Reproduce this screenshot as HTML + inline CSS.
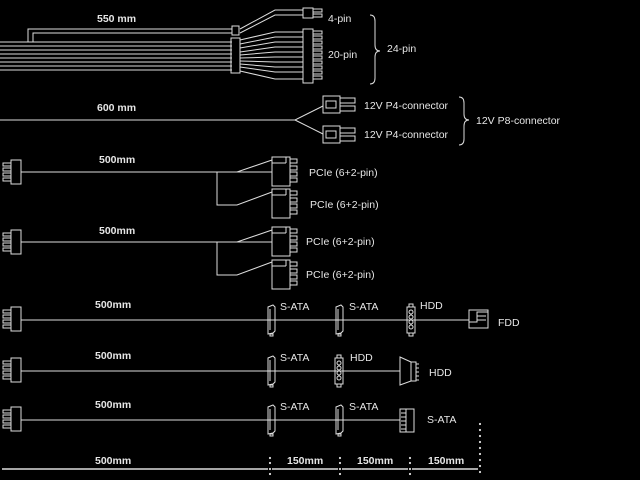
<!DOCTYPE html>
<html><head><meta charset="utf-8"><style>
html,body{margin:0;padding:0;background:#000;}
svg{display:block;}
text{font-family:"Liberation Sans",sans-serif;font-size:10.5px;fill:#e6e6e6;}
.b{font-weight:bold;}
</style></head><body>
<svg width="640" height="480" viewBox="0 0 640 480" xmlns="http://www.w3.org/2000/svg">
<defs>
<g id="lc" fill="none" stroke="#ddd" stroke-width="1">
  <rect x="11" y="0" width="10" height="24"/>
  <rect x="3" y="3" width="8" height="3"/><rect x="3" y="8" width="8" height="3"/>
  <rect x="3" y="13" width="8" height="3"/><rect x="3" y="18" width="8" height="3"/>
</g>
<g id="pcie" fill="none" stroke="#ddd" stroke-width="1">
  <rect x="0" y="0" width="18" height="29"/>
  <line x1="0" y1="6" x2="14" y2="6"/><line x1="14" y1="0" x2="14" y2="6"/>
  <rect x="18" y="2" width="7" height="4"/><rect x="18" y="9" width="7" height="4"/>
  <rect x="18" y="15" width="7" height="4"/><rect x="18" y="21" width="7" height="4"/>
</g>
<g id="sata" fill="none" stroke="#ddd" stroke-width="1">
  <path d="M1 2 L6 0 L8 2 L8 26 L6 28 L1 29 Z"/>
  <line x1="3" y1="4" x2="3" y2="25"/>
  <rect x="3" y="29" width="3" height="2"/>
</g>
<g id="molex" fill="none" stroke="#ddd" stroke-width="1">
  <rect x="0" y="3" width="8" height="26"/>
  <rect x="2" y="0" width="4" height="3"/><rect x="2" y="29" width="4" height="3"/>
  <circle cx="4" cy="8" r="2"/><circle cx="4" cy="13" r="2"/><circle cx="4" cy="18" r="2"/><circle cx="4" cy="23" r="2"/>
</g>
<g id="p4" fill="none" stroke="#ddd" stroke-width="1">
  <rect x="0" y="0" width="17" height="17"/>
  <rect x="3" y="5" width="10" height="7"/>
  <rect x="17" y="2" width="15" height="5"/><rect x="17" y="10" width="15" height="5"/>
</g>
</defs>
<g stroke="#ddd" stroke-width="1" fill="none">
  <!-- 24 pin -->
  <path d="M28 42 V29 H232 M33 42 V33 H232"/>
  <path d="M0 42H232M0 46H232M0 50H232M0 54H232M0 58H232M0 62H232M0 66H232M0 70H232"/>
  <rect x="232" y="26" width="7" height="9"/>
  <rect x="231" y="38" width="9" height="35"/>
  <path d="M240 29 L275 10 H303 M240 33 L275 15 H303"/>
  <path d="M240 40 L275 32 H303 M240 44 L275 37 H303 M240 48 L275 42 H303 M240 52 L275 47 H303 M240 55 L275 52 H303 M240 58 L275 57 H303 M240 61 L275 62 H303 M240 64 L275 67 H303 M240 67 L275 72 H303 M240 71 L275 79 H303"/>
  <rect x="303" y="8" width="10" height="10"/>
  <rect x="313" y="9" width="9" height="3"/><rect x="313" y="14" width="9" height="3"/>
  <rect x="303" y="29" width="10" height="54"/>
  <path d="M313 31h9v3h-9M313 36h9v3h-9M313 41h9v3h-9M313 46h9v3h-9M313 51h9v3h-9M313 56h9v3h-9M313 61h9v3h-9M313 66h9v3h-9M313 71h9v3h-9M313 76h9v3h-9"/>
  <path d="M370 15 q5 0 5 6 v24 q0 6 5 6 q-5 0 -5 6 v21 q0 6 -5 6"/>
  <!-- 600 -->
  <path d="M0 120 H295 L323 106 M295 120 L323 134"/>
  <use href="#p4" x="323" y="96"/>
  <use href="#p4" x="323" y="126"/>
  <path d="M459 97 q5 0 5 6 v11 q0 6 5 6 q-5 0 -5 6 v13 q0 6 -5 6"/>
  <!-- PCIe -->
  <path d="M21 172 H237 L272 160 M217 172 V205 H237 L272 192 M237 172 H272"/>
  <use href="#lc" x="0" y="160"/>
  <use href="#pcie" x="272" y="157"/><use href="#pcie" x="272" y="189"/>
  <path d="M21 242 H237 L272 230 M217 242 V275 H237 L272 262 M237 242 H272"/>
  <use href="#lc" x="0" y="230"/>
  <use href="#pcie" x="272" y="227"/><use href="#pcie" x="272" y="260"/>
  <!-- row1 -->
  <path d="M21 320 H469"/>
  <use href="#lc" x="0" y="307"/>
  <use href="#sata" x="267" y="305"/><use href="#sata" x="335" y="305"/>
  <use href="#molex" x="407" y="304"/>
  <rect x="469" y="310" width="19" height="18" fill="#000"/>
  <path d="M469 322 H477 V312 H488 M477 316 H486 M477 320 H486"/>
  <!-- row2 -->
  <path d="M21 371 H400"/>
  <use href="#lc" x="0" y="358"/>
  <use href="#sata" x="267" y="356"/>
  <use href="#molex" x="335" y="355"/>
  <path d="M400 357 L411 362 V381 L400 385 Z" fill="#000"/>
  <rect x="411" y="362" width="5" height="19"/>
  <path d="M416 364h3M416 368h3M416 372h3M416 376h3M416 380h3"/>
  <!-- row3 -->
  <path d="M21 420 H400"/>
  <use href="#lc" x="0" y="407"/>
  <use href="#sata" x="267" y="405"/><use href="#sata" x="335" y="405"/>
  <rect x="400" y="409" width="14" height="23" fill="#000"/>
  <rect x="406" y="409" width="8" height="23"/>
  <path d="M401 413h5M401 417h5M401 421h5M401 425h5M401 429h5"/>
  <!-- dimension -->
  <path d="M2 469 H268 M272 469 H338 M342 469 H408 M412 469 H478" stroke-width="1.6"/>
</g>
<g fill="#ddd">
  <circle cx="270" cy="458" r="1.1"/><circle cx="270" cy="463" r="1.1"/><circle cx="270" cy="469" r="1.1"/><circle cx="270" cy="474" r="1.1"/>
  <circle cx="340" cy="458" r="1.1"/><circle cx="340" cy="463" r="1.1"/><circle cx="340" cy="469" r="1.1"/><circle cx="340" cy="474" r="1.1"/>
  <circle cx="410" cy="458" r="1.1"/><circle cx="410" cy="463" r="1.1"/><circle cx="410" cy="469" r="1.1"/><circle cx="410" cy="474" r="1.1"/>
  <circle cx="480" cy="424" r="1.1"/><circle cx="480" cy="430" r="1.1"/><circle cx="480" cy="436" r="1.1"/><circle cx="480" cy="442" r="1.1"/><circle cx="480" cy="448" r="1.1"/><circle cx="480" cy="454" r="1.1"/><circle cx="480" cy="460" r="1.1"/><circle cx="480" cy="466" r="1.1"/><circle cx="480" cy="472" r="1.1"/>
</g>
<text class="b" x="97" y="22">550 mm</text>
<text x="328" y="22">4-pin</text>
<text x="328" y="58">20-pin</text>
<text x="387" y="52">24-pin</text>
<text class="b" x="97" y="111">600 mm</text>
<text x="364" y="109">12V P4-connector</text>
<text x="364" y="138">12V P4-connector</text>
<text x="476" y="124">12V P8-connector</text>
<text class="b" x="99" y="163">500mm</text>
<text x="309" y="176">PCIe (6+2-pin)</text>
<text x="310" y="208">PCIe (6+2-pin)</text>
<text class="b" x="99" y="234">500mm</text>
<text x="306" y="245">PCIe (6+2-pin)</text>
<text x="306" y="278">PCIe (6+2-pin)</text>
<text class="b" x="95" y="308">500mm</text>
<text x="280" y="310">S-ATA</text>
<text x="349" y="310">S-ATA</text>
<text x="420" y="309">HDD</text>
<text x="498" y="326">FDD</text>
<text class="b" x="95" y="359">500mm</text>
<text x="280" y="361">S-ATA</text>
<text x="350" y="361">HDD</text>
<text x="429" y="376">HDD</text>
<text class="b" x="95" y="408">500mm</text>
<text x="280" y="410">S-ATA</text>
<text x="349" y="410">S-ATA</text>
<text x="427" y="423">S-ATA</text>
<text class="b" x="95" y="464">500mm</text>
<text class="b" x="287" y="464">150mm</text>
<text class="b" x="357" y="464">150mm</text>
<text class="b" x="428" y="464">150mm</text>
</svg>
</body></html>
